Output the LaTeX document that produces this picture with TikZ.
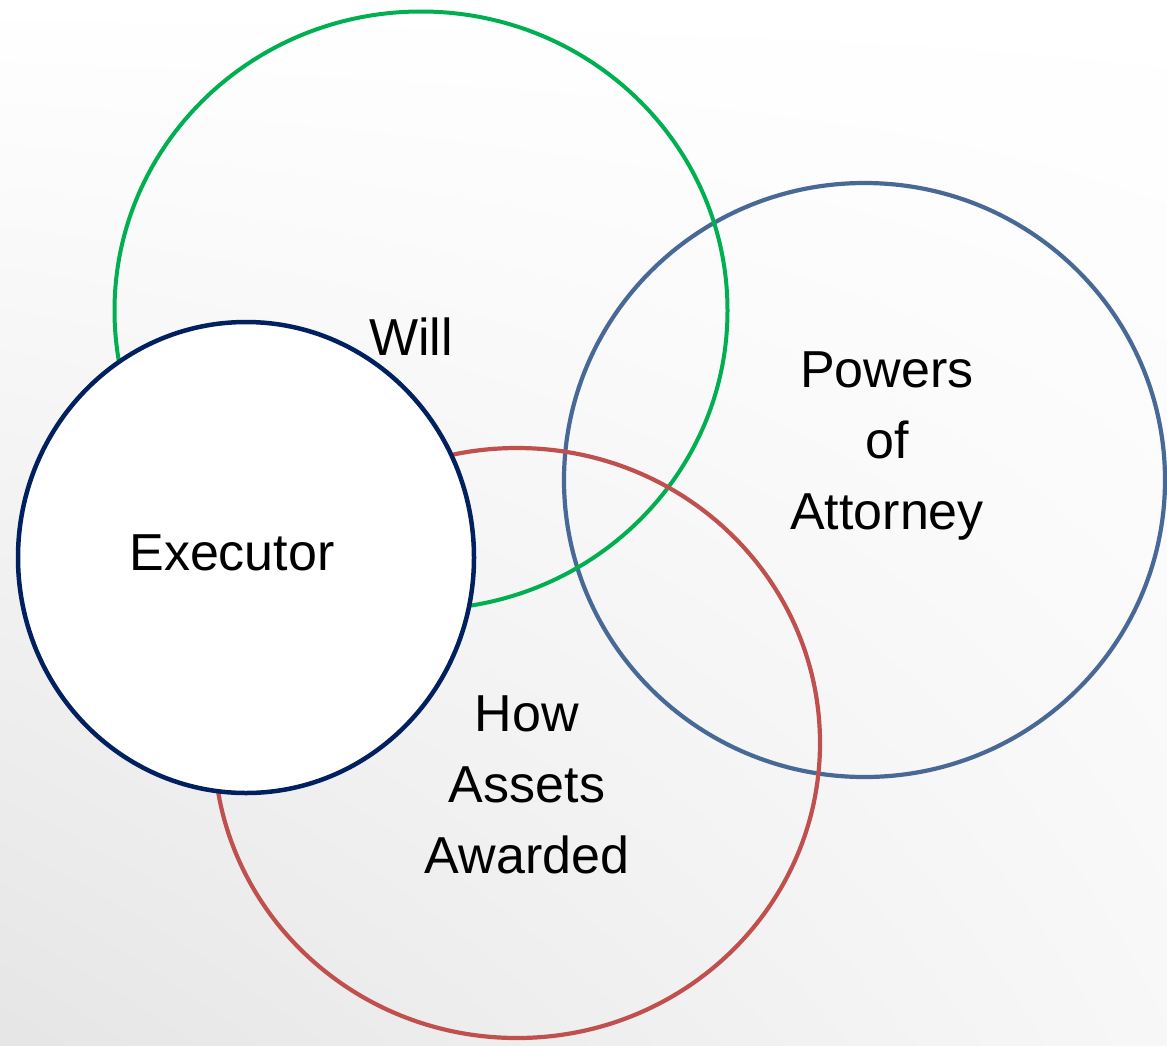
\documentclass[tikz,border=0pt]{standalone}
\usepackage{fontspec}
\setmainfont{Liberation Sans}
\usetikzlibrary{shapes.geometric,shadings}
\definecolor{cgreen}{RGB}{0,176,80}
\definecolor{cblue}{RGB}{72,104,150}
\definecolor{cred}{RGB}{192,80,77}
\definecolor{cnavy}{RGB}{0,32,96}
\tikzset{
  ring/.style={ellipse, inner sep=0pt, outer sep=0pt, fill=none},
  lbl/.style={font=\fontsize{52}{71}\selectfont, align=center, inner sep=0pt, text=black}
}
\begin{document}
\begin{tikzpicture}[x=1pt, y=-1pt]
\useasboundingbox (0,0) rectangle (1167,1045);
\shade[lower left=black!10, upper left=white, upper right=white, lower right=black!3] (0,0) rectangle (1167,1045);
% circles
\node[ring, draw=cblue, line width=4.2pt, minimum width=601pt, minimum height=594pt] (poa) at (864.5,480) {};
\node[ring, draw=cgreen, line width=4pt, minimum width=613pt, minimum height=598pt] (will) at (421,310.5) {};
\node[ring, draw=cred, line width=4.2pt, minimum width=606pt, minimum height=590pt] (assets) at (517,743) {};
\node[ring, draw=cnavy, fill=white, line width=4.5pt, minimum width=456pt, minimum height=471pt] (exec) at (246,557.5) {};
% labels
\node[lbl] (twill) at (411,337) {Will};
\node[lbl] (texec) at (232,553) {Executor};
\node[lbl] (tpoa) at (887,446) {Powers\\of\\Attorney};
\node[lbl] (tassets) at (527,785) {How\\Assets\\Awarded};
\end{tikzpicture}
\end{document}
